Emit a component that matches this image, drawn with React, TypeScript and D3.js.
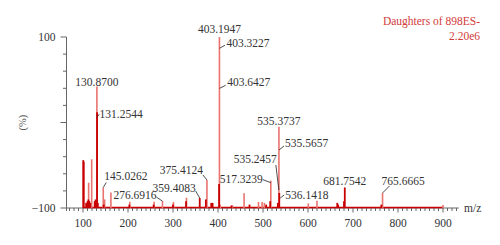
import React from 'react';
import * as d3 from 'd3';

// peaks (m/z, relative intensity in %)
const darkMz = [100.6, 101.6, 107, 110, 112, 114, 116, 126, 128, 131.2544, 133, 146, 203, 257, 300, 329, 359.4083, 373, 385, 388, 402.4, 430, 470, 507, 516, 533, 536.1418, 665, 667, 680, 681.7542, 763];
const darkPct = [28, 27, 3, 4, 5, 4, 3, 4, 5, 56, 3, 2, 2, 2, 2, 4, 5.8, 5, 3, 3, 14, 1.5, 2, 2, 4, 3, 8.8, 3, 2, 4, 12, 2];
const lightMz = [112.5, 119.3, 130.87, 145.0262, 148, 162, 204, 258, 276.6916, 301, 330, 375.4124, 403.1947, 405, 432, 458, 490, 498, 503, 517.3239, 535.3737, 600.7, 620, 765.6665, 900];
const lightPct = [14.8, 28.5, 71, 12, 5, 9, 3.7, 3.7, 4, 3.5, 6, 16.4, 100, 2, 1.5, 8.6, 3.5, 3.5, 3, 16, 47.5, 2.7, 4.3, 8.8, 1.7];

// annotated points: m/z and the intensity where the label points to
const labelMz = [130.87, 131.2544, 403.1947, 403.3227, 403.6427, 535.3737, 535.5657, 535.2457, 536.1418, 517.3239, 681.7542, 765.6665, 375.4124, 359.4083, 276.6916, 145.0262];
const labelPct = [71, 56, 100, 94, 70, 47.5, 34.5, 10.5, 8.8, 16, 12, 8.8, 16.4, 5.8, 4, 12];

const xTicks = [100, 200, 300, 400, 500, 600, 700, 800, 900];
const yTicks = [-100, 100];

// label placement relative to the pointed spot: text offset, anchor, leader line
type Place = { dx: number; dy: number; anchor: string; lead?: number[] };
const places: Place[] = [
  { dx: 0, dy: -1, anchor: 'middle' },
  { dx: 2.5, dy: 6, anchor: 'start', lead: [0, 5, 2, 2] },
  { dx: 0, dy: -4, anchor: 'middle' },
  { dx: 7, dy: 0, anchor: 'start', lead: [0, 1, 5.5, -2] },
  { dx: 7.5, dy: -2, anchor: 'start', lead: [0, 0, 6, -3] },
  { dx: 0, dy: -2, anchor: 'middle' },
  { dx: 6, dy: -2.5, anchor: 'start', lead: [0, 1, 5, -3] },
  { dx: -2, dy: -27, anchor: 'end', lead: [-3, -25, 0, 0] },
  { dx: 6, dy: 6, anchor: 'start', lead: [1, 5, 5, 2] },
  { dx: -8, dy: 2.5, anchor: 'end', lead: [-8, -1, 0, 2] },
  { dx: 0, dy: -2.5, anchor: 'middle' },
  { dx: -1, dy: -8, anchor: 'start', lead: [0, 0, 7, -7] },
  { dx: -4, dy: -6, anchor: 'end', lead: [-4, -5, 0, 0] },
  { dx: -4, dy: -6, anchor: 'end', lead: [-4, -7, 0, 0] },
  { dx: -6, dy: -2, anchor: 'end', lead: [-6, -4, 0, 0] },
  { dx: 1, dy: -7.5, anchor: 'start', lead: [0, 0, 3, -5] },
];

const W = 500;
const H = 245;
const serif = { fontFamily: "'Liberation Serif', 'Times New Roman', Times, serif" };
const axisColor = '#666';
const textColor = '#333';
const dark = '#c80000';
const light = '#e8736f';

export default function App() {
  const x = d3.scaleLinear().domain([100, 900]).range([83, 443]);
  const y = d3.scaleLinear().domain([-100, 100]).range([208, 37]);
  // intensity in % sits on the -100 baseline
  const yI = d3.scaleLinear().domain([0, 100]).range([y(-100), y(100)]);

  const axisX0 = 66.5;
  const axisX1 = x(935);
  const base = y(-100);
  const minorX = d3.range(70, 931, 10);
  const minorY = d3.range(-100, 101, 20);

  const stick = d3.line<[number, number]>();

  return (
    <div style={{ position: 'absolute', left: 0, top: 0 }}>
      <svg width={W} height={H} style={{ display: 'block', background: '#fff' }}>
        {/* title */}
        <text x={480} y={25} textAnchor="end" fontSize={11.5} fill="#d23a3a" style={serif}>Daughters of 898ES-</text>
        <text x={480} y={40} textAnchor="end" fontSize={11.5} fill="#d23a3a" style={serif}>2.20e6</text>

        {/* y axis */}
        <line x1={axisX0} x2={axisX0} y1={y(100)} y2={base + 3} stroke={axisColor} strokeWidth={1} />
        {minorY.map((v) => (
          <line key={'ym' + v} x1={axisX0 - (v % 100 === 0 ? 6 : 3.5)} x2={axisX0} y1={y(v)} y2={y(v)} stroke={axisColor} strokeWidth={1} />
        ))}
        {yTicks.map((v) => (
          <text key={'yt' + v} x={axisX0 - 11} y={y(v) + 3.5} textAnchor="end" fontSize={11.5} fill={textColor} style={serif}>{v === -100 ? '\u2212100' : v}</text>
        ))}
        <text transform={`translate(26,${y(0)}) rotate(-90)`} textAnchor="middle" fontSize={10.5} fill="#555" style={serif}>(%)</text>

        {/* x axis */}
        <line x1={axisX0} x2={axisX1} y1={base} y2={base} stroke={axisColor} strokeWidth={1} />
        {minorX.map((v) => (
          <line key={'xm' + v} x1={x(v)} x2={x(v)} y1={base} y2={base + (v % 100 === 0 ? 4.5 : 3)} stroke={axisColor} strokeWidth={1} />
        ))}
        {xTicks.map((v) => (
          <text key={'xt' + v} x={x(v)} y={227} textAnchor="middle" fontSize={11.5} fill={textColor} style={serif}>{v}</text>
        ))}
        <text x={464} y={211.5} fontSize={11.5} fill={textColor} style={serif}>m/z</text>

        {/* spectrum baseline */}
        <line x1={x(100)} x2={x(900)} y1={base - 0.5} y2={base - 0.5} stroke={dark} strokeWidth={1.5} />

        {/* light peaks */}
        {lightMz.map((m, i) => (
          <path key={'l' + i} d={stick([[x(m), base], [x(m), yI(lightPct[i])]]) || ''} stroke={light} strokeWidth={1.6} fill="none" />
        ))}
        {/* dark peaks */}
        {darkMz.map((m, i) => (
          <path key={'d' + i} d={stick([[x(m), base], [x(m), yI(darkPct[i])]]) || ''} stroke={dark} strokeWidth={1.8} fill="none" />
        ))}

        {/* annotations */}
        {labelMz.map((m, i) => {
          const ax = x(m);
          const ay = yI(labelPct[i]);
          const p = places[i];
          return (
            <g key={'a' + i}>
              {p.lead && (
                <line x1={ax + p.lead[0]} y1={ay + p.lead[1]} x2={ax + p.lead[2]} y2={ay + p.lead[3]} stroke="#222" strokeWidth={0.8} />
              )}
              <text x={ax + p.dx} y={ay + p.dy} textAnchor={p.anchor} fontSize={11.5} fill={textColor} style={serif}>{m.toFixed(4)}</text>
            </g>
          );
        })}
      </svg>
    </div>
  );
}
